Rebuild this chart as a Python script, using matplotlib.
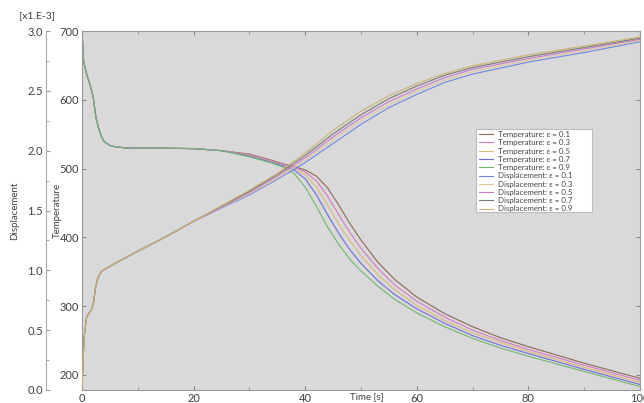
import matplotlib
matplotlib.use("Agg")
import matplotlib.pyplot as plt
import matplotlib.ticker as mticker
from matplotlib.patches import Rectangle

plt.rcParams["font.family"] = ["Lato", "DejaVu Sans"]

# -----------------------------------------------------------------------------
# Data
# -----------------------------------------------------------------------------

eps_labels = ["0.1", "0.3", "0.5", "0.7", "0.9"]

# Temperature (falling family)
t_temp = [0, 0.3, 0.8, 1.5, 2, 2.5, 3, 3.5, 4, 5, 6, 8, 10, 15, 20, 25, 30,
          34, 36, 38, 40, 42, 44, 46, 48, 50, 53, 56, 60, 65, 70, 75, 80, 90, 100]
temp_early = [700, 655, 638, 620, 604, 574, 558, 546, 539, 533.5, 531.5, 530,
              529.5, 529.5, 529, 526]
temp_e01 = temp_early + [521, 512, 507, 503, 498, 489, 472, 447, 420, 396,
                         364, 339, 313, 289, 270, 254, 241, 217, 195]
temp_e03 = temp_early + [520, 511, 506, 502, 495, 482, 460, 433, 407, 384,
                         355, 331, 307, 284, 265, 250, 237, 214, 192]
temp_e05 = temp_early + [519, 510, 505, 500, 491, 473, 447, 419, 395, 373,
                         346, 324, 301, 279, 261, 247, 234, 211, 189]
temp_e07 = temp_early + [518, 509, 504, 498, 485, 462, 433, 406, 382, 362,
                         337, 317, 296, 275, 257, 243, 231, 208, 186]
temp_e09 = temp_early + [517, 508, 502, 493, 473, 445, 415, 390, 368, 351,
                         329, 310, 290, 270, 253, 239, 227, 205, 183]

# Displacement in units of 1e-3 (rising family)
t_disp = [0, 0.2, 0.4, 0.8, 1.2, 1.7, 2.1, 2.4, 2.8, 3.2, 3.6, 4.5, 6, 8, 10,
          15, 20, 25, 30, 35, 40, 45, 50, 55, 60, 65, 70, 80, 90, 100]
disp_early = [0, 0.25, 0.45, 0.60, 0.64, 0.67, 0.74, 0.85, 0.93, 0.97, 0.995,
              1.02, 1.06, 1.11, 1.16, 1.28, 1.41]
disp_e01 = disp_early + [1.52, 1.63, 1.76, 1.90, 2.06, 2.22, 2.36, 2.47, 2.57,
                         2.64, 2.74, 2.82, 2.91]
disp_e03 = disp_early + [1.525, 1.64, 1.77, 1.92, 2.09, 2.25, 2.385, 2.495,
                         2.59, 2.66, 2.755, 2.835, 2.92]
disp_e05 = disp_early + [1.53, 1.65, 1.785, 1.94, 2.115, 2.275, 2.41, 2.515,
                         2.61, 2.68, 2.77, 2.85, 2.93]
disp_e07 = disp_early + [1.535, 1.66, 1.80, 1.96, 2.14, 2.30, 2.435, 2.54,
                         2.63, 2.695, 2.785, 2.862, 2.94]
disp_e09 = disp_early + [1.54, 1.67, 1.81, 1.98, 2.17, 2.33, 2.46, 2.56,
                         2.645, 2.71, 2.80, 2.875, 2.95]

temp_series = [temp_e01, temp_e03, temp_e05, temp_e07, temp_e09]
disp_series = [disp_e01, disp_e03, disp_e05, disp_e07, disp_e09]

temp_colors = ["#8a6a55", "#d679c8", "#d9b978", "#6c6ce0", "#6fb86f"]
disp_colors = ["#6f86e6", "#dcc9a0", "#c87cc8", "#7a7a7a", "#cdb56e"]

# -----------------------------------------------------------------------------
# Figure
# -----------------------------------------------------------------------------

fig = plt.figure(figsize=(6.44, 4.03), dpi=100)
ax = fig.add_axes([82 / 644, 1 - 390 / 403, 558 / 644, 359 / 403])
ax.set_facecolor("#d9d9d9")
ax2 = ax.twinx()

handles = []
for eps, vals, color in zip(eps_labels, temp_series, temp_colors):
    (ln,) = ax.plot(t_temp, vals, color=color, lw=0.8,
                    label=f"Temperature: \u03b5 = {eps}")
    handles.append(ln)
for eps, vals, color in zip(eps_labels, disp_series, disp_colors):
    (ln,) = ax2.plot(t_disp, vals, color=color, lw=0.8,
                     label=f"Displacement: \u03b5 = {eps}")
    handles.append(ln)

ax.set_xlim(0, 100)
ax.set_ylim(178, 700)
ax2.set_ylim(0, 3.0)

# Time / temperature axes
ax.xaxis.set_major_locator(mticker.MultipleLocator(20))
ax.xaxis.set_minor_locator(mticker.MultipleLocator(10))
ax.yaxis.set_major_locator(mticker.MultipleLocator(100))
ax.tick_params(axis="both", which="both", direction="in", top=True,
               right=True, labelsize=8, colors="#888888", labelcolor="#404040")
ax.tick_params(which="major", length=3, pad=2)
ax.tick_params(which="minor", length=2)
for sp in ax.spines.values():
    sp.set_color("#999999")
    sp.set_linewidth(0.8)

ax.set_xlabel("Time [s]", fontsize=7, color="#404040")
ax.xaxis.set_label_coords(0.51, -0.005)
ax.xaxis.label.set_va("top")
ax.set_ylabel("Temperature", fontsize=7, color="#404040")
ax.yaxis.set_label_coords(-0.036, 0.5)

# Displacement axis moved out to the left
ax2.spines["left"].set_visible(True)
ax2.spines["left"].set_position(("outward", 26))
ax2.spines["left"].set_color("#aaaaaa")
ax2.spines["left"].set_linewidth(0.8)
ax2.spines["right"].set_visible(False)
ax2.spines["top"].set_visible(False)
ax2.spines["bottom"].set_visible(False)
ax2.yaxis.set_ticks_position("left")
ax2.yaxis.set_label_position("left")
ax2.yaxis.set_major_locator(mticker.MultipleLocator(0.5))
ax2.yaxis.set_minor_locator(mticker.MultipleLocator(0.25))
ax2.yaxis.set_major_formatter(mticker.FormatStrFormatter("%.1f"))
ax2.tick_params(axis="y", which="both", direction="in", labelsize=8,
                colors="#999999", labelcolor="#404040", pad=2)
ax2.tick_params(which="major", length=3)
ax2.tick_params(which="minor", length=2)
ax2.set_ylabel("Displacement", fontsize=7, color="#404040", labelpad=6)
fig.text(37 / 644, 1 - 16 / 403, "[x1.E-3]", fontsize=7.5, color="#404040",
         ha="center", va="center")

# Legend: white box drawn separately so it can be wider than its text
box = Rectangle((476 / 644, 1 - 212 / 403), 116 / 644, 83 / 403,
                transform=fig.transFigure, facecolor="white",
                edgecolor="#bbbbbb", linewidth=0.8, zorder=5)
fig.patches.append(box)
leg = fig.legend(handles=handles, loc="upper left",
                 bbox_to_anchor=(477 / 644, 1 - 129 / 403),
                 fontsize=5.7, frameon=False, handlelength=1.8,
                 handletextpad=0.6, labelspacing=0.16, borderpad=0.25,
                 borderaxespad=0)
leg.set_zorder(6)
for txt in leg.get_texts():
    txt.set_color("#444444")

fig.savefig("out.png", dpi=100)
